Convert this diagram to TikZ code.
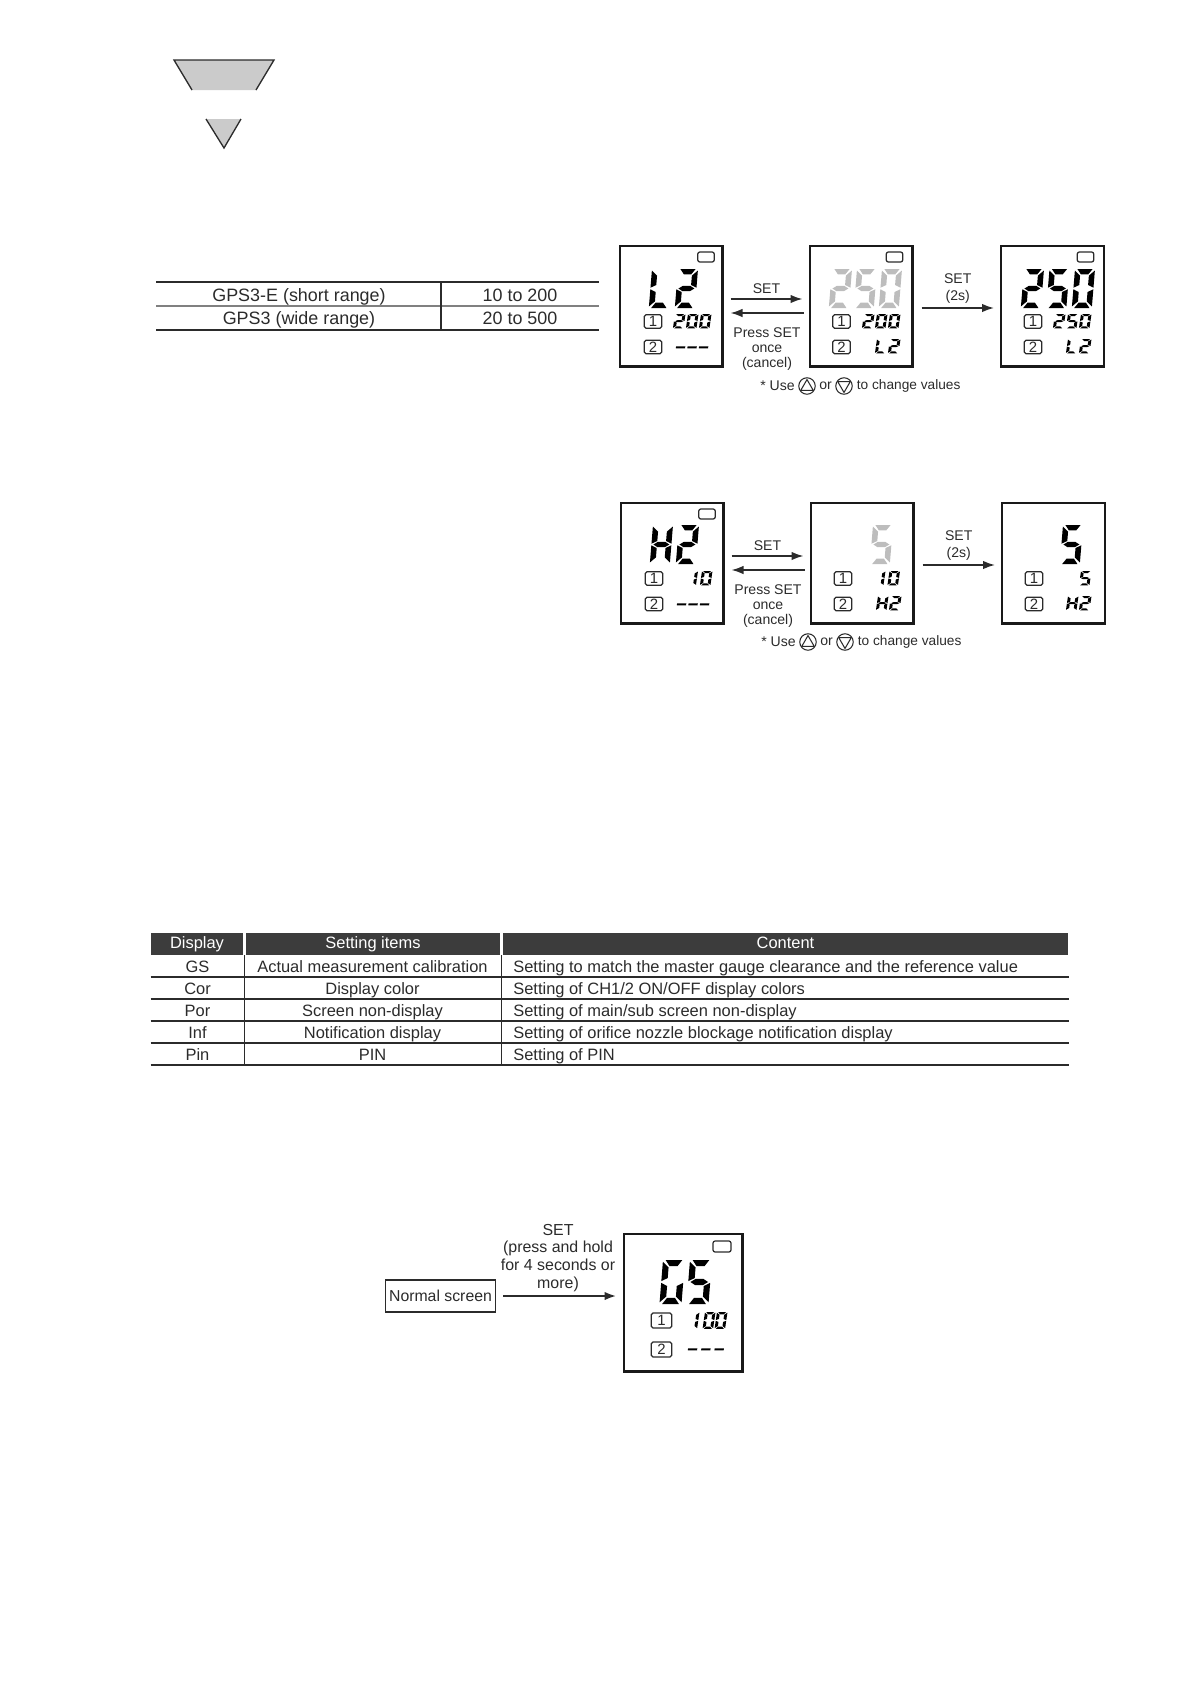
\documentclass[tikz,border=0pt]{standalone}
\usepackage{fontspec}
\setmainfont{Liberation Sans}
\usetikzlibrary{positioning,arrows.meta,shapes.geometric}

\definecolor{inkgray}{HTML}{2B2B2B}
\definecolor{lcdgray}{HTML}{BDBDBD}
\definecolor{headgray}{HTML}{3C3C3C}
\definecolor{wedgegray}{HTML}{CBCBCB}

\newcommand{\lcda}{\fill (1.2,0)--(8.8,0)--(6.8,2.8)--(3.2,2.8)--cycle;}
\newcommand{\lcdb}{\fill (10,.8)--(7.2,3.4)--(7.2,8.2)--(10,9.6)--cycle;}
\newcommand{\lcdc}{\fill (10,10.4)--(7.2,11.8)--(7.2,16.6)--(10,19.2)--cycle;}
\newcommand{\lcdd}{\fill (3.2,17.2)--(6.8,17.2)--(8.8,20)--(1.2,20)--cycle;}
\newcommand{\lcde}{\fill (0,10.4)--(2.8,11.8)--(2.8,16.6)--(0,19.2)--cycle;}
\newcommand{\lcdf}{\fill (0,.8)--(2.8,3.4)--(2.8,8.2)--(0,9.6)--cycle;}
\newcommand{\lcdg}{\fill (1,10)--(3.2,8.6)--(6.8,8.6)--(9,10)--(6.8,11.4)--(3.2,11.4)--cycle;}
\newcommand{\lcdh}{\fill (0,8.8)--(8.8,8.8)--(8.8,11.6)--(0,11.6)--cycle;}
\expandafter\def\csname lcdchar0\endcsname{a,b,c,d,e,f}
\expandafter\def\csname lcdchar1\endcsname{b,c}
\expandafter\def\csname lcdchar2\endcsname{a,b,g,e,d}
\expandafter\def\csname lcdchar5\endcsname{a,f,g,c,d}
\expandafter\def\csname lcdcharS\endcsname{a,f,g,c,d}
\expandafter\def\csname lcdcharG\endcsname{a,f,e,d,c}
\expandafter\def\csname lcdcharL\endcsname{f,e,d}
\expandafter\def\csname lcdcharH\endcsname{f,b,g,e,c}
\expandafter\def\csname lcdchar-\endcsname{h}
\newcommand{\lcdword}[5]{
  \foreach \ch [count=\pos from 0] in {#5} {
    \begin{scope}[shift={(#1+\pos*#3,#2)},#4]
      \edef\seglist{\csname lcdchar\ch\endcsname}
      \foreach \sg in \seglist {\csname lcd\sg\endcsname}
    \end{scope}
  }
}
\newcommand{\changenote}[3]{
  \node[note,anchor=east] (#1use) at (795+#2,#3) {* Use};
  \node[keybtn] (#1up) at (807+#2,#3) {};
  \node[keytri] (#1uptri) at (807+#2,#3+.8) {};
  \node[note] (#1or) at (825.5+#2,#3) {or};
  \node[keybtn] (#1dn) at (844+#2,#3) {};
  \node[keytri,shape border rotate=180] (#1dntri) at (844+#2,#3-.8) {};
  \node[note,anchor=west,font=\fontsize{7.8}{8.2}\selectfont] (#1change) at (856.5+#2,#3) {to change values};
}

\begin{document}
\begin{tikzpicture}[
  x=.02cm, y=-.02cm,
  screen/.style={draw=black!90, line width=1.15pt, inner sep=0, minimum width=2.06cm, minimum height=2.42cm},
  bigscreen/.style={screen, minimum width=2.38cm, minimum height=2.76cm},
  chbox/.style={draw=inkgray, rounded corners=1pt, line width=.65pt, inner sep=0, text=inkgray, minimum width=.35cm, minimum height=.27cm, font=\fontsize{8.5}{9}\selectfont},
  lamp/.style={draw=inkgray, rounded corners=1.2pt, line width=.7pt, inner sep=0, minimum width=.33cm, minimum height=.2cm},
  lcdbig/.style={xscale=2, yscale=1.95, xslant=.08, fill=black},
  lcdbigger/.style={xscale=2.2, yscale=2.2, xslant=.08, fill=black},
  lcdsmall/.style={xscale=1.05, yscale=.72, xslant=.1, fill=black},
  note/.style={font=\fontsize{8}{8.5}\selectfont, text=inkgray, align=center, inner sep=0},
  keybtn/.style={draw=inkgray, circle, line width=.6pt, inner sep=0, minimum size=.33cm},
  keytri/.style={draw=inkgray, regular polygon, regular polygon sides=3, line width=.6pt, inner sep=0, minimum size=.29cm},
  arrow/.style={-{Latex[length=2.4mm,width=1.7mm]}, line width=.9pt, draw=inkgray},
  cell/.style={font=\fontsize{9.36}{10}\selectfont, text=inkgray, inner sep=0, text height=.72em, text depth=.2em, yshift=-.03cm},
  headcell/.style={fill=headgray, text=white, font=\fontsize{9.36}{10}\selectfont, inner sep=0, minimum height=.44cm, text height=.9em, text depth=.35em},
  rangecell/.style={font=\fontsize{10.2}{12}\selectfont, text=inkgray, inner sep=0, text height=.72em, text depth=.2em, yshift=-.04cm}
]
\useasboundingbox (0,0) rectangle (1190,1684);

\draw[fill=wedgegray, draw=none] (174,60) -- (274,60) -- (256,90) -- (192,90) -- cycle;
\draw[line width=.75pt, inkgray] (192,90) -- (174,60) -- (274,60) -- (256,90);
\draw[fill=wedgegray, draw=none] (206,119) -- (241,119) -- (224,148) -- cycle;
\draw[line width=.75pt, inkgray] (206,119) -- (224,148) -- (241,119);

\node[rangecell] (shortname) at (299,295) {GPS3-E (short range)};
\node[rangecell] (widename) at (299,318) {GPS3 (wide range)};
\node[rangecell] (shortval) at (520,295) {10 to 200};
\node[rangecell] (wideval) at (520,318) {20 to 500};
\draw[line width=.8pt, inkgray] (156,282) -- (599,282);
\draw[line width=.8pt, gray] (156,306) -- (599,306);
\draw[line width=.7pt, inkgray] (156,330) -- (599,330);
\draw[line width=.9pt, inkgray] (441,282) -- (441,330);

\node[screen] (l2scr) at (671,306) {};
\node[screen] (l2edit) at (861,306) {};
\node[screen] (l2done) at (1052.5,306) {};
\node[lamp] (l2lamp) at (706,257) {};
\node[lamp] (l2editlamp) at (894.5,257) {};
\node[lamp] (l2donelamp) at (1085.5,257) {};
\node[chbox] (l2one) at (653,321.5) {1};
\node[chbox] (l2two) at (653,347) {2};
\node[chbox] (l2editone) at (841.5,321.5) {1};
\node[chbox] (l2edittwo) at (841.5,347) {2};
\node[chbox] (l2doneone) at (1033,321.5) {1};
\node[chbox] (l2donetwo) at (1033,347) {2};
\lcdword{652}{269}{26}{lcdbig}{L,2}
\lcdword{832}{269}{25}{lcdbig,fill=lcdgray}{2,5,0}
\lcdword{1024}{269}{25.5}{lcdbig}{2,5,0}
\lcdword{675}{314}{13}{lcdsmall}{2,0,0}
\lcdword{677}{340}{11.5}{lcdsmall}{-,-,-}
\lcdword{864}{314}{13}{lcdsmall}{2,0,0}
\lcdword{877}{339}{13}{lcdsmall}{L,2}
\lcdword{1055}{314}{13}{lcdsmall}{2,5,0}
\lcdword{1068}{339}{13}{lcdsmall}{L,2}
\draw[arrow] ([shift={(7,-7)}]l2scr.east) -- node[note,above=2.6pt] (l2set) {SET} ([shift={(-6,-7)}]l2edit.west);
\draw[arrow] ([shift={(-5,7)}]l2edit.west) -- node[note,below=8pt] (l2cancel) {Press SET\\once\\(cancel)} ([shift={(7,7)}]l2scr.east);
\draw[arrow] ([shift={(8,2)}]l2edit.east) -- node[note,above=2pt,font=\fontsize{8}{9.7}\selectfont] (l2hold) {SET\\(2s)} ([shift={(-6,2)}]l2done.west);
\changenote{l2}{0}{386}

\node[screen] (h2scr) at (672,563) {};
\node[screen] (h2edit) at (862,563) {};
\node[screen] (h2done) at (1053.5,563) {};
\node[lamp] (h2lamp) at (707,514) {};
\node[chbox] (h2one) at (654,578.5) {1};
\node[chbox] (h2two) at (654,604) {2};
\node[chbox] (h2editone) at (843,578.5) {1};
\node[chbox] (h2edittwo) at (843,604) {2};
\node[chbox] (h2doneone) at (1034,578.5) {1};
\node[chbox] (h2donetwo) at (1034,604) {2};
\lcdword{653}{525}{26}{lcdbig}{H,2}
\lcdword{873}{525}{0}{lcdbig,fill=lcdgray}{5}
\lcdword{1063}{525}{0}{lcdbig}{5}
\lcdword{687.5}{571}{14.5}{lcdsmall}{1,0}
\lcdword{678}{597}{11.5}{lcdsmall}{-,-,-}
\lcdword{875}{571}{14.5}{lcdsmall}{1,0}
\lcdword{878}{596}{13}{lcdsmall}{H,2}
\lcdword{1081}{571}{0}{lcdsmall}{5}
\lcdword{1068}{596}{13}{lcdsmall}{H,2}
\draw[arrow] ([shift={(7,-7)}]h2scr.east) -- node[note,above=2.6pt] (h2set) {SET} ([shift={(-6,-7)}]h2edit.west);
\draw[arrow] ([shift={(-5,7)}]h2edit.west) -- node[note,below=8pt] (h2cancel) {Press SET\\once\\(cancel)} ([shift={(7,7)}]h2scr.east);
\draw[arrow] ([shift={(8,2)}]h2edit.east) -- node[note,above=2pt,font=\fontsize{8}{9.7}\selectfont] (h2hold) {SET\\(2s)} ([shift={(-6,2)}]h2done.west);
\changenote{h2}{1}{642}

\node[headcell, minimum width=1.86cm] (headdisp) at (197,944) {Display};
\node[headcell, minimum width=5.08cm] (headitem) at (373,944) {Setting items};
\node[headcell, minimum width=11.3cm] (headtext) at (785.5,944) {Content};
\foreach \rowy/\disp/\item/\info [count=\rownum] in {
  966/GS/Actual measurement calibration/Setting to match the master gauge clearance and the reference value,
  988/Cor/Display color/{Setting of CH1/2 ON/OFF display colors},
  1010/Por/Screen non-display/{Setting of main/sub screen non-display},
  1032/Inf/Notification display/Setting of orifice nozzle blockage notification display,
  1054/Pin/PIN/Setting of PIN} {
  \node[cell] (disp\rownum) at (197.5,\rowy) {\disp};
  \node[cell] (item\rownum) at (372.5,\rowy) {\item};
  \node[cell,anchor=west] (info\rownum) at (513,\rowy) {\info};
}
\foreach \liney in {977,999,1021,1043} {
  \draw[line width=.7pt, inkgray] (150.5,\liney) -- (1068.5,\liney);
}
\draw[line width=1.3pt, inkgray] (150.5,1065) -- (1068.5,1065);
\draw[line width=.5pt, inkgray] (244,955) -- (244,1065);
\draw[line width=.5pt, inkgray] (501,955) -- (501,1065);

\node[draw=inkgray, line width=1pt, inner sep=0, minimum width=2.2cm, minimum height=.64cm, text=inkgray, font=\fontsize{9}{10}\selectfont] (normal) at (440.5,1296) {Normal screen};
\node[bigscreen] (gsscr) at (683,1302.5) {};
\node[lamp, minimum width=.36cm, minimum height=.22cm] (gslamp) at (722,1246.5) {};
\node[chbox, minimum width=.41cm, minimum height=.3cm] (gsone) at (661.5,1320.5) {1};
\node[chbox, minimum width=.41cm, minimum height=.3cm] (gstwo) at (661.5,1349.5) {2};
\lcdword{663}{1260}{27}{lcdbigger}{G,S}
\lcdword{689}{1312}{0}{lcdsmall,yscale=1.17}{1}
\lcdword{705}{1312}{12}{lcdsmall,yscale=1.17}{0,0}
\lcdword{689}{1342}{13.3}{lcdsmall}{-,-,-}
\draw[arrow, line width=1.3pt, shorten <=.14cm, shorten >=.12cm] (normal.east) -- (normal.east -| gsscr.west);
\node[note, font=\fontsize{9.07}{10.2}\selectfont] (gshold) at (558,1258) {SET\\(press and hold\\for 4 seconds or\\more)};
\end{tikzpicture}
\end{document}
